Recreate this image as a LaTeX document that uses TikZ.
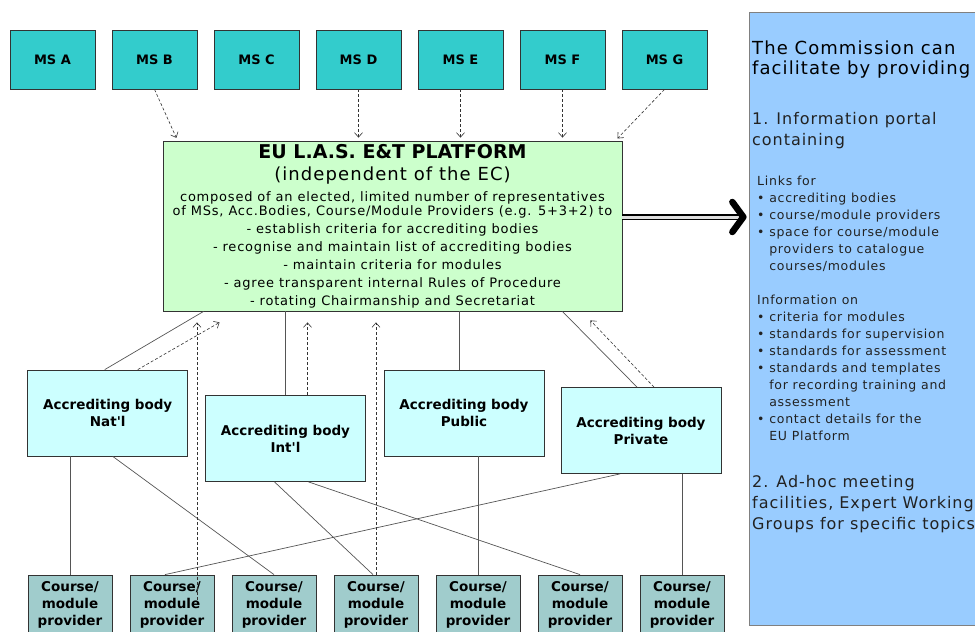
\documentclass[tikz,border=0pt]{standalone}
\usepackage{fontspec}
\setmainfont{DejaVu Sans}[LetterSpace=6]
\newfontfamily\labelfont{DejaVu Sans}
\usetikzlibrary{arrows.meta}
\definecolor{msteal}{HTML}{33CCCC}
\definecolor{platgreen}{HTML}{CCFFCC}
\definecolor{acccyan}{HTML}{CCFFFF}
\definecolor{provteal}{HTML}{A0CCCC}
\definecolor{panelblue}{HTML}{99CCFF}
\definecolor{edgegray}{HTML}{333333}
\definecolor{linkgray}{HTML}{555555}
\definecolor{textgray}{HTML}{222222}

\begin{document}
\begin{tikzpicture}[x=1pt,y=-1pt,
    msbox/.style={draw=edgegray, line width=0.8pt, fill=msteal, minimum width=85pt, minimum height=59pt, inner sep=0pt,
      font=\labelfont\bfseries\fontsize{13}{16}\selectfont},
    platbox/.style={draw=edgegray, line width=0.8pt, fill=platgreen, minimum width=459pt, minimum height=170pt, inner sep=0pt,
      align=center, font=\fontsize{13}{18}\selectfont},
    accbox/.style={draw=edgegray, line width=0.8pt, fill=acccyan, minimum width=160pt, minimum height=86pt, inner sep=0pt,
      align=center, font=\labelfont\bfseries\fontsize{13.5}{17}\selectfont},
    provbox/.style={draw=edgegray, line width=0.8pt, fill=provteal, minimum width=84pt, minimum height=60pt, inner sep=0pt,
      align=center, font=\labelfont\bfseries\fontsize{13.5}{17}\selectfont},
    panelbox/.style={draw=gray, line width=0.8pt, fill=panelblue, minimum width=241pt, minimum height=613pt, inner sep=0pt},
    paneltext/.style={anchor=north west, inner sep=0pt, align=left, text=textgray},
    solidlink/.style={draw=linkgray, line width=0.7pt},
    dashlink/.style={draw=edgegray, line width=0.6pt, dash pattern=on 3pt off 2pt,
      -{Straight Barb[length=4.5pt,width=8pt]}, shorten >=#1},
    dashlink/.default=3pt,
    bigarrow/.style={draw=black, line width=1.6pt, double=gray!25, double distance=3pt, shorten >=2pt,
      -{Straight Barb[length=11pt,width=30pt,line width'=6.5pt,round]}}]
  \useasboundingbox (0,0) rectangle (975,632);
  \clip (0,0) rectangle (975,632);

  % member states
  \node[msbox] (msa) at (52.5,59.5) {MS A};
  \node[msbox] (msb) at (154.5,59.5) {MS B};
  \node[msbox] (msc) at (256.5,59.5) {MS C};
  \node[msbox] (msd) at (358.5,59.5) {MS D};
  \node[msbox] (mse) at (460.5,59.5) {MS E};
  \node[msbox] (msf) at (562.5,59.5) {MS F};
  \node[msbox] (msg) at (664.5,59.5) {MS G};

  % the platform
  \node[platbox] (plat) at (392.5,226) {%
    {\labelfont\bfseries\fontsize{19}{19}\selectfont EU L.A.S. E\&T PLATFORM}\\[4pt]
    {\fontsize{18}{18}\selectfont (independent of the EC)}\\[3pt]
    composed of an elected, limited number of representatives\\[-4pt]
    of MSs, Acc.Bodies, Course/Module Providers (e.g. 5+3+2) to\\
    - establish criteria for accrediting bodies\\
    - recognise and maintain list of accrediting bodies\\
    - maintain criteria for modules\\
    - agree transparent internal Rules of Procedure\\
    - rotating Chairmanship and Secretariat};

  % accrediting bodies
  \node[accbox] (natl) at (107.75,413) {Accrediting body\\Nat'l};
  \node[accbox] (intl) at (285.5,438.5) {Accrediting body\\Int'l};
  \node[accbox] (pub) at (464,413) {Accrediting body\\Public};
  \node[accbox] (priv) at (641,430.5) {Accrediting body\\Private};

  % course/module providers
  \node[provbox] (p1) at (70,605) {Course/\\module\\provider};
  \node[provbox] (p2) at (172,605) {Course/\\module\\provider};
  \node[provbox] (p3) at (274,605) {Course/\\module\\provider};
  \node[provbox] (p4) at (376,605) {Course/\\module\\provider};
  \node[provbox] (p5) at (478,605) {Course/\\module\\provider};
  \node[provbox] (p6) at (580,605) {Course/\\module\\provider};
  \node[provbox] (p7) at (682,605) {Course/\\module\\provider};

  % commission panel
  \node[panelbox] (panel) at (869.5,318.5) {};
  \node[paneltext, text=black, font=\fontsize{18}{20}\selectfont] (cmhead) at (752,41)
    {The Commission can\\facilitate by providing};
  \node[paneltext, font=\fontsize{16}{21}\selectfont] (cmportal) at (752,112)
    {1. Information portal\\containing};
  \node[paneltext, font=\fontsize{12.5}{17}\selectfont] (cmlinks) at (757,176)
    {Links for\\• accrediting bodies\\• course/module providers\\• space for course/module\\
     \phantom{• }providers to catalogue\\\phantom{• }courses/modules};
  \node[paneltext, font=\fontsize{12.5}{17}\selectfont] (cminfo) at (757,295)
    {Information on\\• criteria for modules\\• standards for supervision\\• standards for assessment\\
     • standards and templates\\\phantom{• }for recording training and\\\phantom{• }assessment\\
     • contact details for the\\\phantom{• }EU Platform};
  \node[paneltext, font=\fontsize{16}{21}\selectfont] (cmadhoc) at (752,475)
    {2. Ad-hoc meeting\\facilities, Expert Working\\Groups for specific topics};

  % member states to platform
  \draw[dashlink] (msb.south) -- ([xshift=15pt]plat.north west);
  \draw[dashlink] (msd.south) -- (msd.south |- plat.north);
  \draw[dashlink] (mse.south) -- (mse.south |- plat.north);
  \draw[dashlink] (msf.south) -- (msf.south |- plat.north);
  \draw[dashlink] (msg.south) -- ([xshift=-7pt]plat.north east);

  % bodies to platform
  \draw[solidlink] ([xshift=-3pt]natl.north) -- ([xshift=41pt]plat.south west);
  \draw[solidlink] (intl.north) -- (intl.north |- plat.south);
  \draw[solidlink] ([xshift=-5pt]pub.north) -- ([xshift=-5pt]pub.north |- plat.south);
  \draw[solidlink] ([xshift=-4pt]priv.north) -- ([xshift=-60pt]plat.south east);
  \draw[dashlink=0pt] ([xshift=30pt]natl.north) -- ([xshift=57pt,yshift=-11pt]plat.south west);
  \draw[dashlink=11pt] ([xshift=22pt]intl.north) -- ([xshift=22pt]intl.north |- plat.south);
  \draw[dashlink=0pt] ([xshift=13pt]priv.north) -- ([xshift=-32pt,yshift=-9pt]plat.south east);

  % providers to bodies
  \draw[solidlink] (p1.north |- natl.south) -- (p1.north);
  \draw[solidlink] ([xshift=5pt]natl.south) -- (p3.north);
  \draw[solidlink] ([xshift=-11pt]intl.south) -- ([xshift=-3pt]p4.north);
  \draw[solidlink] ([xshift=23pt]intl.south) -- (p6.north);
  \draw[solidlink] (p5.north |- pub.south) -- (p5.north);
  \draw[solidlink] ([xshift=-21pt]priv.south) -- ([xshift=-7pt]p2.north);
  \draw[solidlink] (p7.north |- priv.south) -- (p7.north);
  \draw[dashlink=11pt] ([xshift=25pt,yshift=5pt]p2.center) -- ([xshift=25pt]p2.center |- plat.south);
  \draw[dashlink=11pt] (p4.north) -- (p4.north |- plat.south);

  % platform to commission
  \draw[bigarrow] ([yshift=9pt]plat.east) -- ([yshift=9pt]plat.east -| panel.west);
\end{tikzpicture}
\end{document}
